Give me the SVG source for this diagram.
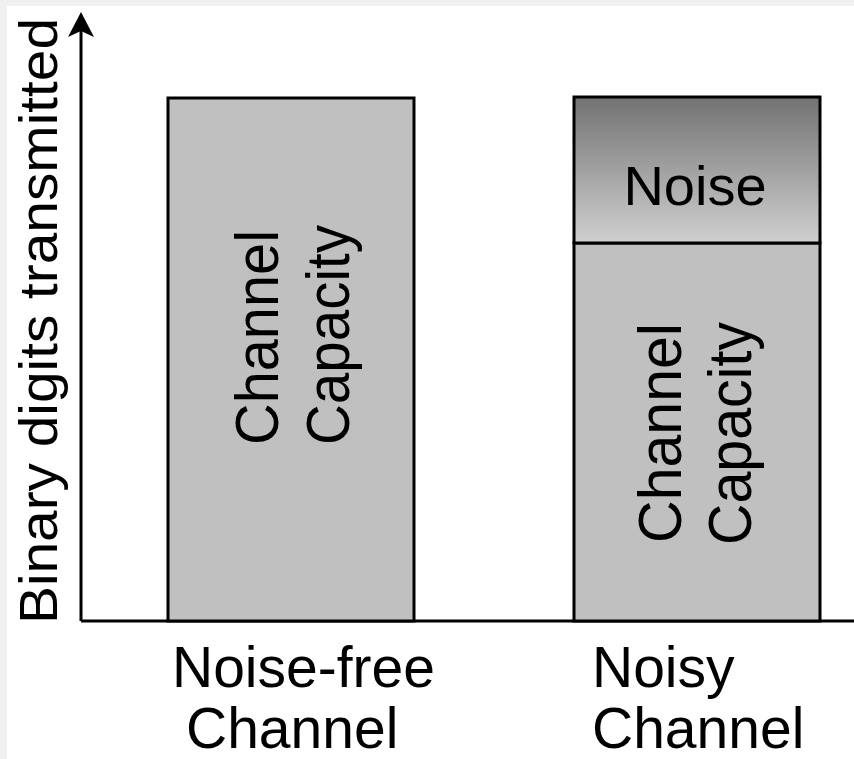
<svg xmlns="http://www.w3.org/2000/svg" width="854" height="759" viewBox="0 0 854 759">
<style>
  .box { fill: #c0c0c0; stroke: #000; stroke-width: 3; }
  .axis { stroke: #000; stroke-width: 3; fill: none; }
  .t { font-family: "Liberation Sans", Arial, sans-serif; fill: #000; }
</style>
<defs>
  <linearGradient id="noiseGrad" x1="0" y1="0" x2="0" y2="1">
    <stop offset="0" stop-color="#727272"/>
    <stop offset="1" stop-color="#d0d0d0"/>
  </linearGradient>
</defs>
<rect x="0" y="0" width="854" height="759" fill="#f0f0f0"/>
<rect x="7" y="6" width="847" height="753" fill="#ffffff"/>

<g id="axes">
  <line class="axis" x1="81" y1="621" x2="854" y2="621"/>
  <line class="axis" x1="81" y1="621" x2="81" y2="28"/>
  <polygon points="81,12 94,37 81,31 68,37" fill="#000"/>
  <text class="t" font-size="54" transform="translate(57,624) rotate(-90)" textLength="606" lengthAdjust="spacingAndGlyphs">Binary digits transmitted</text>
</g>

<g id="noise-free">
  <rect class="box" x="168" y="98" width="246" height="523"/>
  <text class="t" font-size="62" transform="translate(278,445) rotate(-90)" textLength="215" lengthAdjust="spacingAndGlyphs">Channel</text>
  <text class="t" font-size="62" transform="translate(349,445) rotate(-90)" textLength="220" lengthAdjust="spacingAndGlyphs">Capacity</text>
  <text class="t" font-size="57" x="172" y="687">Noise-free</text>
  <text class="t" font-size="57" x="186" y="748">Channel</text>
</g>

<g id="noisy">
  <rect class="box" x="574" y="243" width="246" height="378"/>
  <rect x="574" y="97" width="246" height="146" fill="url(#noiseGrad)" stroke="#000" stroke-width="3"/>
  <text class="t" font-size="56" x="695" y="205" text-anchor="middle">Noise</text>
  <text class="t" font-size="62" transform="translate(681,543) rotate(-90)" textLength="220" lengthAdjust="spacingAndGlyphs">Channel</text>
  <text class="t" font-size="62" transform="translate(751,545) rotate(-90)" textLength="223" lengthAdjust="spacingAndGlyphs">Capacity</text>
  <text class="t" font-size="57" x="592" y="687">Noisy</text>
  <text class="t" font-size="57" x="592" y="748">Channel</text>
</g>
</svg>
